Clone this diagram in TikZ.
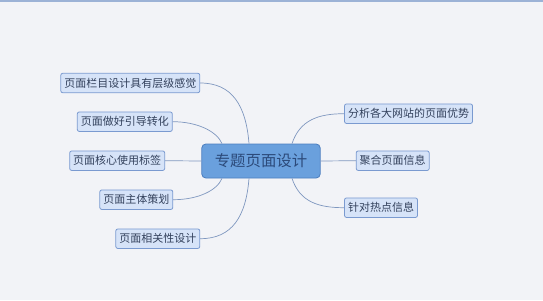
\documentclass[tikz,border=0pt]{standalone}
\usepackage{fontspec}
\newfontfamily\cjk{Noto Sans CJK SC}
\definecolor{bgc}{HTML}{F2F3F7}
\definecolor{topc}{HTML}{9CB2D6}
\definecolor{mainfill}{HTML}{6AA0DD}
\definecolor{maindraw}{HTML}{4C7EBF}
\definecolor{maintext}{HTML}{2C4A7A}
\definecolor{subfill}{HTML}{D6E3F8}
\definecolor{subdraw}{HTML}{7A9AD0}
\definecolor{subtext}{HTML}{33415C}
\definecolor{linkc}{HTML}{7F97BF}
\tikzset{
  topic/.style={draw=maindraw, fill=mainfill, text=maintext, rounded corners=4pt,
    line width=0.8pt, inner xsep=13pt, inner ysep=0pt, minimum height=34pt,
    font=\cjk\fontsize{15.4}{18}\selectfont},
  sub/.style={draw=subdraw, fill=subfill, text=subtext, rounded corners=2pt,
    line width=0.8pt, inner xsep=3.5pt, inner ysep=0pt, minimum height=19.5pt,
    font=\cjk\fontsize{11}{13}\selectfont},
  link/.style={draw=linkc, line width=0.7pt}
}
\begin{document}
\begin{tikzpicture}[x=1pt,y=-1pt]
  \fill[bgc] (0,0) rectangle (543,300);
  \useasboundingbox (0,0) rectangle (543,300);
  \draw[topc, line width=1.5pt] (0,0.75) -- (543,0.75);

  \node[topic] (c) at (261,161) {专题页面设计};

  % left branches
  \node[sub] (l1) at (130.3,83) {页面栏目设计具有层级感觉};
  \node[sub] (l2) at (124.8,121.7) {页面做好引导转化};
  \node[sub] (l3) at (117.2,160.7) {页面核心使用标签};
  \node[sub] (l4) at (136.3,199.7) {页面主体策划};
  \node[sub] (l5) at (157.8,238.7) {页面相关性设计};

  % right branches
  \node[sub] (r1) at (408.5,113.7) {分析各大网站的页面优势};
  \node[sub] (r2) at (392.7,160.7) {聚合页面信息};
  \node[sub] (r3) at (381,207.7) {针对热点信息};

  \draw[link] ([xshift=-12pt]c.north) .. controls +(-3,-38) and +(32,0) .. (l1.east);
  \draw[link] ([xshift=-39pt]c.north) .. controls +(-5,-12) and +(25,0) .. (l2.east);
  \draw[link] (c.west) -- (l3.east);
  \draw[link] ([xshift=-39pt]c.south) .. controls +(-5,12) and +(25,0) .. (l4.east);
  \draw[link] ([xshift=-12pt]c.south) .. controls +(-3,38) and +(32,0) .. (l5.east);
  \draw[link] ([xshift=31pt]c.north) .. controls +(8,-24) and +(-25,0) .. (r1.west);
  \draw[link] (c.east) -- (r2.west);
  \draw[link] ([xshift=31pt]c.south) .. controls +(8,24) and +(-25,0) .. (r3.west);
\end{tikzpicture}
\end{document}
